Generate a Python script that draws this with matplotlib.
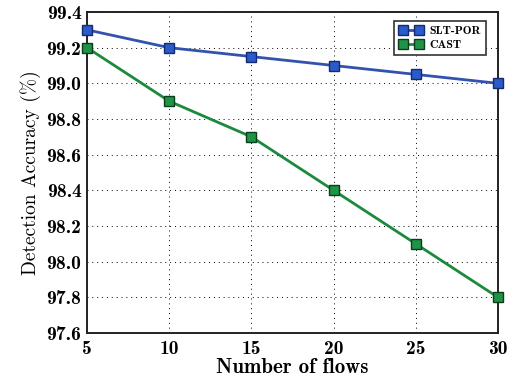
import matplotlib
matplotlib.use('Agg')
import matplotlib.pyplot as plt

flows = [5, 10, 15, 20, 25, 30]
slt_por = [99.3, 99.2, 99.15, 99.1, 99.05, 99.0]
cast = [99.2, 98.9, 98.7, 98.4, 98.1, 97.8]
yticks = [97.6, 97.8, 98.0, 98.2, 98.4, 98.6, 98.8, 99.0, 99.2, 99.4]

fig = plt.figure(figsize=(5.13, 3.83), dpi=100)
ax = fig.add_axes([87/513, 1-333/383, (498-87)/513, (333-12)/383])

ax.plot(flows, slt_por, '-s', color='#3352ad', mfc='#2a5bc8', mec='#152a70',
        lw=2, ms=7.5, label='SLT-POR', zorder=3, clip_on=False)
ax.plot(flows, cast, '-s', color='#1b8a3c', mfc='#1e9447', mec='#0b3d1a',
        lw=2, ms=7.5, label='CAST', zorder=3, clip_on=False)

ax.set_xlim(5, 30)
ax.set_ylim(97.6, 99.4)
ax.set_xticks(flows)
ax.set_yticks(yticks)
ax.set_xticklabels([str(f) for f in flows], family='cmb10', fontsize=14)
ax.set_yticklabels(['%.1f' % y for y in yticks], family='cmb10', fontsize=14)
ax.tick_params(axis='x', length=0, pad=5)
ax.tick_params(axis='y', length=0, pad=4)
ax.grid(True, ls=(0, (1, 4)), color='black', lw=0.7)
for s in ax.spines.values():
    s.set_linewidth(1.4)
    s.set_color('#222222')

ax.set_xlabel('Number of flows', family='cmb10', fontsize=15, labelpad=0)
ax.set_ylabel('Detection Accuracy (%)', family='cmr10', fontsize=14, labelpad=4)

leg = ax.legend(loc='upper right', prop={'family': 'cmb10', 'size': 8.5},
                fancybox=False, framealpha=1, edgecolor='#333333',
                numpoints=2, handlelength=2.0, borderpad=0.4, labelspacing=0.3,
                handletextpad=0.6, bbox_to_anchor=(0.985, 0.99))
leg.get_frame().set_linewidth(1.2)

fig.savefig('out.png', dpi=100)
